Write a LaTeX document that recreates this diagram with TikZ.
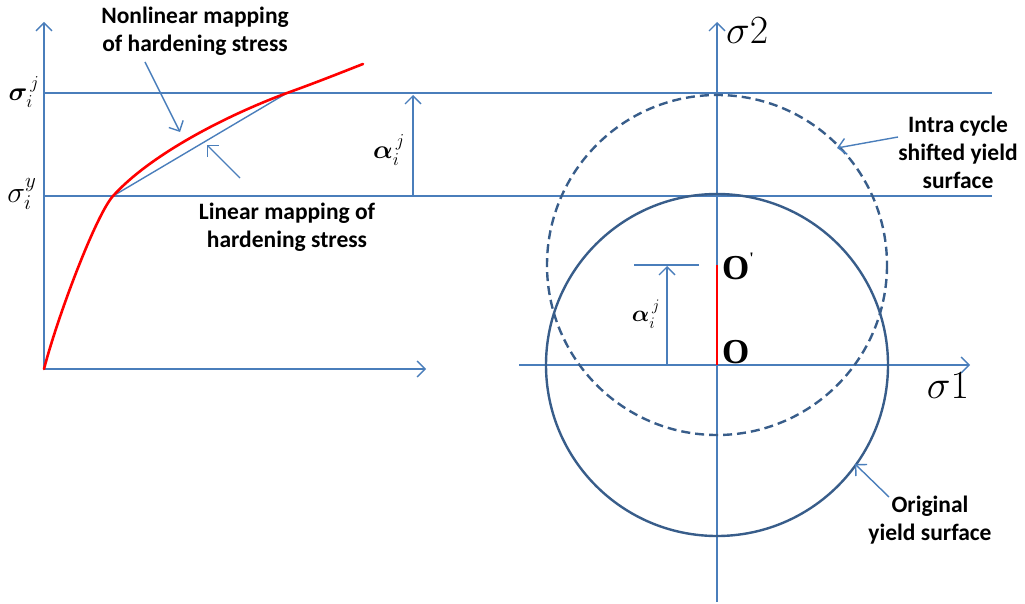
\documentclass[tikz,border=0pt]{standalone}
\usepackage{fix-cm}
\usepackage{amsmath}
\usepackage{bm}
\usepackage{fontspec}
\setmainfont{Carlito}
\newfontfamily\tnr{Liberation Serif}
\usetikzlibrary{arrows.meta}
\definecolor{axblue}{RGB}{74,126,187}
\definecolor{circblue}{RGB}{56,93,138}
\begin{document}
\begin{tikzpicture}[x=1pt,y=-1pt,
  ax/.style={draw=axblue,line width=1.4pt},
  tipv/.style={-{Straight Barb[length=8pt,width=16pt,line width=1.4pt]}},
  lbl/.style={font=\fontsize{23.5}{28}\selectfont\bfseries,align=center,inner sep=0pt},
  mlab/.style={inner sep=0pt,font=\fontsize{26}{30}\selectfont},
  olab/.style={inner sep=0pt,font=\fontsize{35}{38}\selectfont\tnr\bfseries,anchor=west},
  circ/.style={draw=circblue,line width=2.4pt},
  ]
\useasboundingbox (0,0) rectangle (1025,604);
% ---------- left graph ----------
\coordinate (LO) at (44,369);
\coordinate (LY) at (44,22);
\coordinate (LX) at (426,369);
\draw[ax,tipv] (LO) -- (LY);
\draw[ax,tipv] (LO) -- (LX);
\coordinate (H1a) at (44,93);  \coordinate (H1b) at (992,93);
\coordinate (H2a) at (44,196); \coordinate (H2b) at (992,196);
\draw[ax] (H1a) -- (H1b);
\draw[ax] (H2a) -- (H2b);
\coordinate (Y) at (113,196);
\coordinate (P) at (287,93);
\coordinate (E) at (363,64);
\draw[ax] (Y) -- (P);
\draw[red,line width=2.6pt,line cap=round]
  (LO) .. controls (58,315) and (96,215) .. (Y)
       .. controls (150,155) and (225,116) .. (P)
       .. controls (315,83) and (340,73) .. (E);
% annotation arrows
\coordinate (NLs) at (145,62);  \coordinate (NLe) at (180,132);
\coordinate (Ls) at (240,178);  \coordinate (Le) at (207,145);
\draw[ax,tipv] (NLs) -- (NLe);
\draw[ax,tipv] (Ls) -- (Le);
\coordinate (Ab) at (413,196); \coordinate (At) at (413,95);
\draw[ax,tipv] (Ab) -- (At);
\node[mlab] (alab) at (389,150) {$\bm{\alpha}_i^{\,j}$};
\node[mlab] (sj) at (24,92) {$\bm{\sigma}_i^{\,j}$};
\node[mlab,font=\fontsize{30}{33}\selectfont] (sy) at (22,194) {$\sigma_i^{y}$};
\node[lbl] (tNL) at (195,31) {Nonlinear mapping\\of hardening stress};
\node[lbl] (tL) at (287,227) {Linear mapping of\\hardening stress};
% ---------- right graph ----------
\coordinate (RO) at (717,365);
\coordinate (RB) at (717,602);
\coordinate (RT) at (717,22);
\coordinate (RL) at (519,365);
\coordinate (RR) at (970,365);
\draw[ax,tipv] (RB) -- (RT);
\draw[ax,tipv] (RL) -- (RR);
\coordinate (OP) at (717,265);
\draw[circ] (RO) circle[radius=171];
\draw[circ,dash pattern=on 9pt off 5pt] (OP) circle[radius=170];
\draw[red,line width=1.8pt] (RO) -- (OP);
\node[inner sep=0pt,font=\fontsize{40}{44}\selectfont,anchor=west] (s2) at (726,31) {$\sigma 2$};
\node[inner sep=0pt,font=\fontsize{40}{44}\selectfont] (s1) at (948,386) {$\sigma 1$};
\node[olab] (Olab) at (722,352) {O};
\node[olab] (OPlab) at (722,266) {O\raisebox{1.0ex}{\fontsize{16}{16}\selectfont\textquotesingle}};
% small alpha arrow
\coordinate (Sa) at (634,265); \coordinate (Sb) at (699,265);
\draw[ax] (Sa) -- (Sb);
\coordinate (Sab) at (667,365); \coordinate (Sat) at (667,266);
\draw[ax,tipv] (Sab) -- (Sat);
\node[mlab,font=\fontsize{23}{28}\selectfont] (alab2) at (646,314) {$\bm{\alpha}_i^{\,j}$};
% labels
\node[lbl] (tIC) at (958,152) {Intra cycle\\shifted yield\\surface};
\coordinate (ICs) at (898,137); \coordinate (ICe) at (837,148);
\draw[ax,tipv] (ICs) -- (ICe);
\node[lbl] (tOY) at (930,520) {Original\\yield surface};
\coordinate (OYs) at (889,497); \coordinate (OYe) at (855,464);
\draw[ax,tipv] (OYs) -- (OYe);
\end{tikzpicture}
\end{document}
